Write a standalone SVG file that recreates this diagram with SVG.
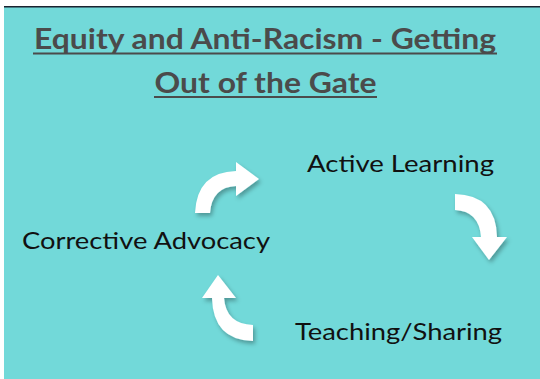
<svg xmlns="http://www.w3.org/2000/svg" width="540" height="379" viewBox="0 0 540 379">
  <style>
    .title { font-family: Lato, "Noto Sans", "Liberation Sans", sans-serif; font-weight: 700; font-size: 29px; fill: #4b4b4b; }
    .label { font-family: Lato, "Noto Sans", "Liberation Sans", sans-serif; font-size: 24px; fill: #111111; }
    .uline { stroke: #4b4b4b; stroke-width: 2; }
    .arrow { fill: #ffffff; filter: url(#shadow); }
  </style>
  <defs>
    <filter id="shadow" x="-30%" y="-30%" width="160%" height="160%">
      <feDropShadow dx="2" dy="3" stdDeviation="2" flood-color="#000000" flood-opacity="0.3"/>
    </filter>
  </defs>

  <!-- background panel -->
  <rect x="0" y="0" width="540" height="379" fill="#ffffff"/>
  <rect x="4" y="7" width="536" height="372" fill="#72d9d9"/>
  <rect x="4" y="6" width="536" height="1.5" fill="#1b2330"/>

  <!-- title -->
  <g id="title">
    <text class="title" x="265" y="49" text-anchor="middle" textLength="462" lengthAdjust="spacingAndGlyphs">Equity and Anti-Racism - Getting</text>
    <line class="uline" x1="33" y1="53.5" x2="497" y2="53.5"/>
    <text class="title" x="265.5" y="92.5" text-anchor="middle" textLength="222" lengthAdjust="spacingAndGlyphs">Out of the Gate</text>
    <line class="uline" x1="154" y1="97" x2="377" y2="97"/>
  </g>

  <!-- stages -->
  <g id="active-learning">
    <text class="label" x="307" y="172" textLength="187" lengthAdjust="spacingAndGlyphs">Active Learning</text>
  </g>
  <g id="teaching-sharing">
    <text class="label" x="295" y="340" textLength="207" lengthAdjust="spacingAndGlyphs">Teaching/Sharing</text>
  </g>
  <g id="corrective-advocacy">
    <text class="label" x="22" y="249" textLength="248" lengthAdjust="spacingAndGlyphs">Corrective Advocacy</text>
  </g>

  <!-- curved cycle arrows -->
  <g id="connectors">
    <path class="arrow" d="M195,213 Q197,172 236,171 L236,162 L259,179 L236,196 L236,186 Q212,187 210,213 Z"/>
    <path class="arrow" d="M455,194 Q496,195 497,237 L507,237 L489,260 L472,237 L481,237 Q479,211 455,210 Z"/>
    <path class="arrow" d="M253,341 Q213,340 212,298 L202,298 L218,275 L236,298 L224,298 Q226,324 253,325 Z"/>
  </g>
</svg>
